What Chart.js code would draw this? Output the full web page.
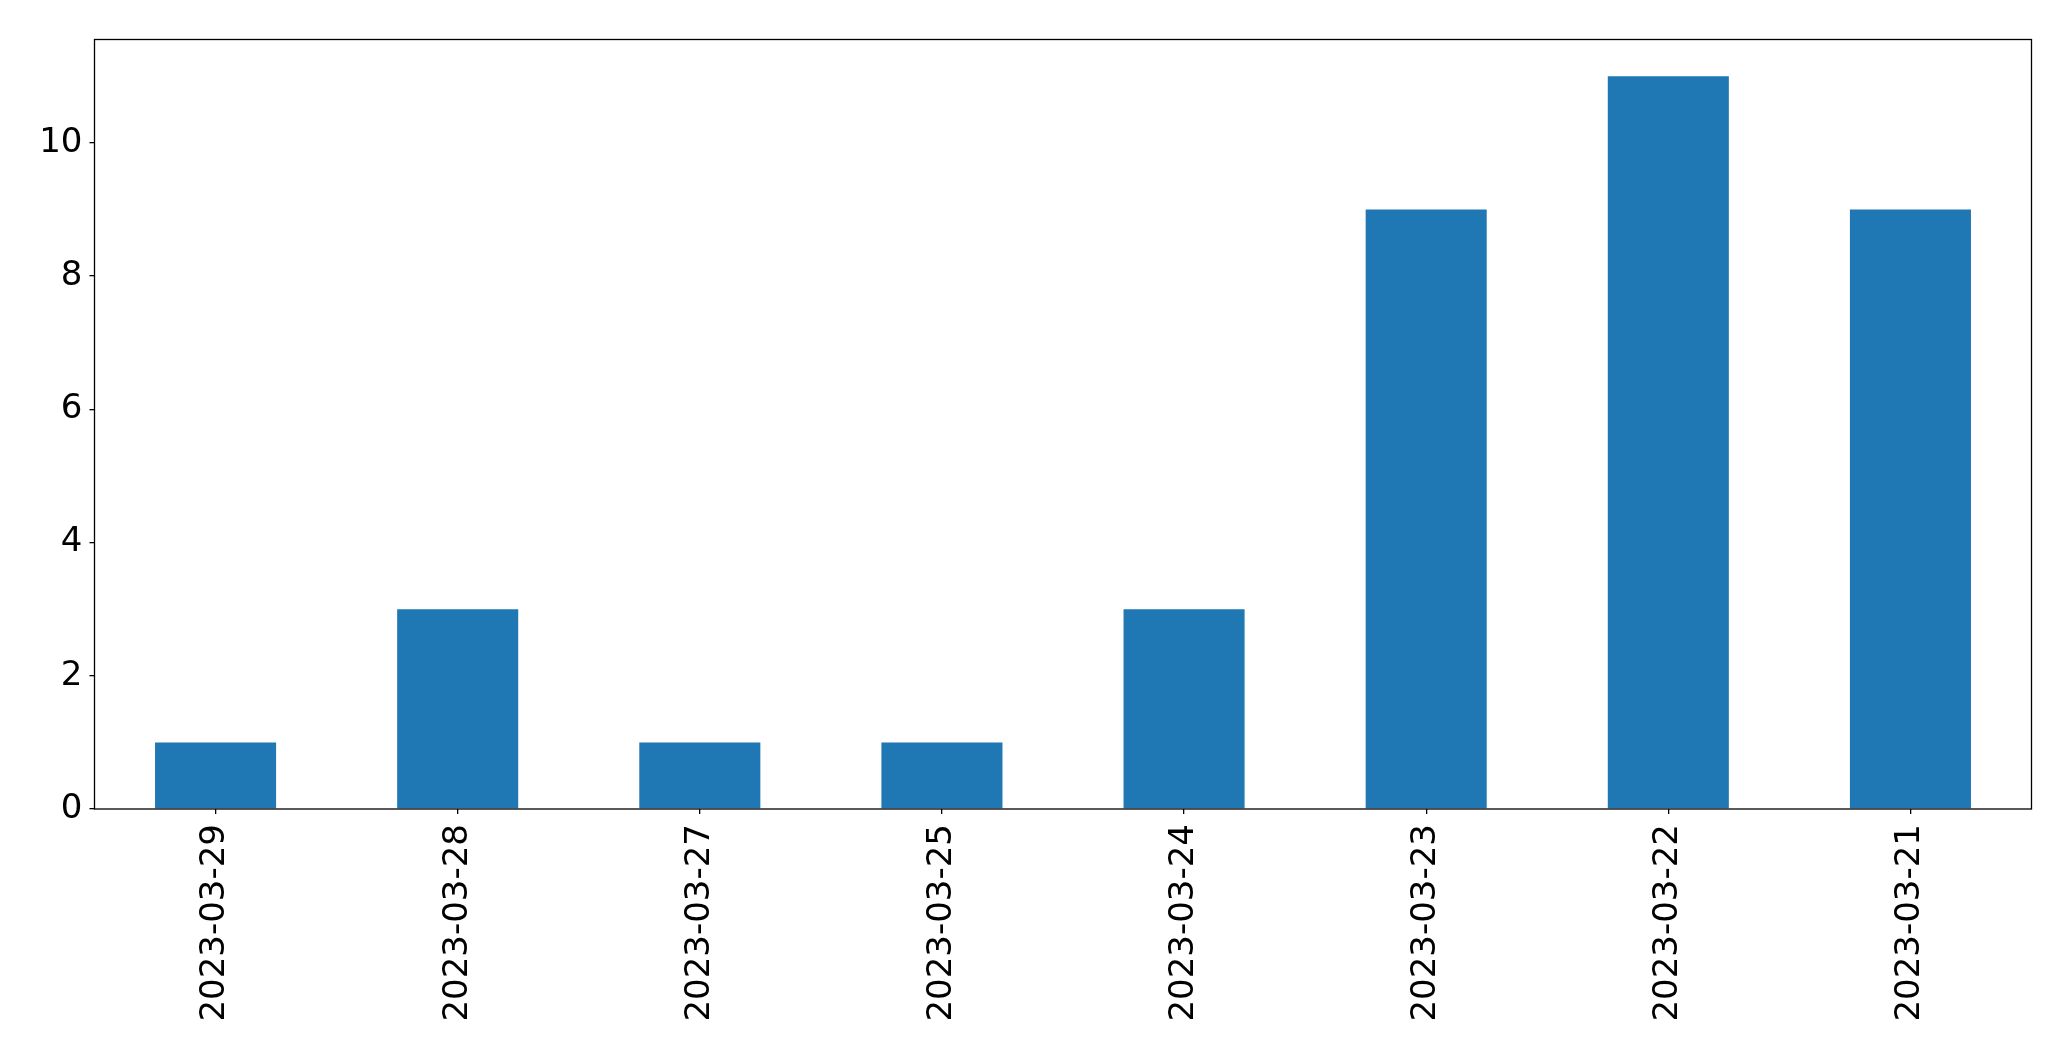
<!DOCTYPE html>
<html>
<head>
<meta charset="utf-8">
<script src="https://cdn.jsdelivr.net/npm/chart.js@4/dist/chart.umd.min.js"></script>
<style>
  body { margin: 0; background: #fff; }
  canvas { display: block; }
</style>
</head>
<body>
<canvas id="chart" width="2071" height="1061"></canvas>
<script>
// Dates on the x axis (as they appear, newest first)
let dates = ["2023-03-29", "2023-03-28", "2023-03-27", "2023-03-25",
             "2023-03-24", "2023-03-23", "2023-03-22", "2023-03-21"];
// Count per date
let counts = [1, 3, 1, 1, 3, 9, 11, 9];
// Y axis ticks
let yTicks = [0, 2, 4, 6, 8, 10];

// Draw the black box round the plot area
let frame = {
    id: "frame",
    afterDraw(chart) {
        let a = chart.chartArea;
        let ctx = chart.ctx;
        ctx.save();
        ctx.strokeStyle = "#000";
        ctx.lineWidth = 1.3;
        ctx.strokeRect(a.left, a.top, a.right - a.left, a.bottom - a.top);
        ctx.restore();
    }
};

let font = { family: "DejaVu Sans", size: 34 };

new Chart(document.getElementById("chart").getContext("2d"), {
    type: "bar",
    data: {
        labels: dates,
        datasets: [{
            data: counts,
            backgroundColor: "#1f77b4",
            barPercentage: 0.5,
            categoryPercentage: 1.0
        }]
    },
    options: {
        responsive: false,
        animation: false,
        devicePixelRatio: 1,
        layout: { padding: { top: 39.5, right: 39.5, left: 0, bottom: 0 } },
        plugins: { legend: { display: false }, tooltip: { enabled: false } },
        scales: {
            x: {
                offset: true,
                grid: { display: true, offset: false, drawOnChartArea: false, drawTicks: true, tickLength: 5, color: "#000", lineWidth: 1.3 },
                border: { display: false },
                ticks: { color: "#000", font: font, minRotation: 90, maxRotation: 90, padding: 10, autoSkip: false },
                afterFit(s) { s.height = 252; }
            },
            y: {
                min: 0,
                max: 11.55,
                grid: { display: true, drawOnChartArea: false, drawTicks: true, tickLength: 5, color: "#000", lineWidth: 1.3 },
                border: { display: false },
                ticks: {
                    color: "#000", font: font, stepSize: 2, includeBounds: false, padding: 7,
                    callback: v => yTicks.includes(v) ? v : null
                },
                afterFit(s) { s.width = 94.5; }
            }
        }
    },
    plugins: [frame]
});
</script>
</body>
</html>
